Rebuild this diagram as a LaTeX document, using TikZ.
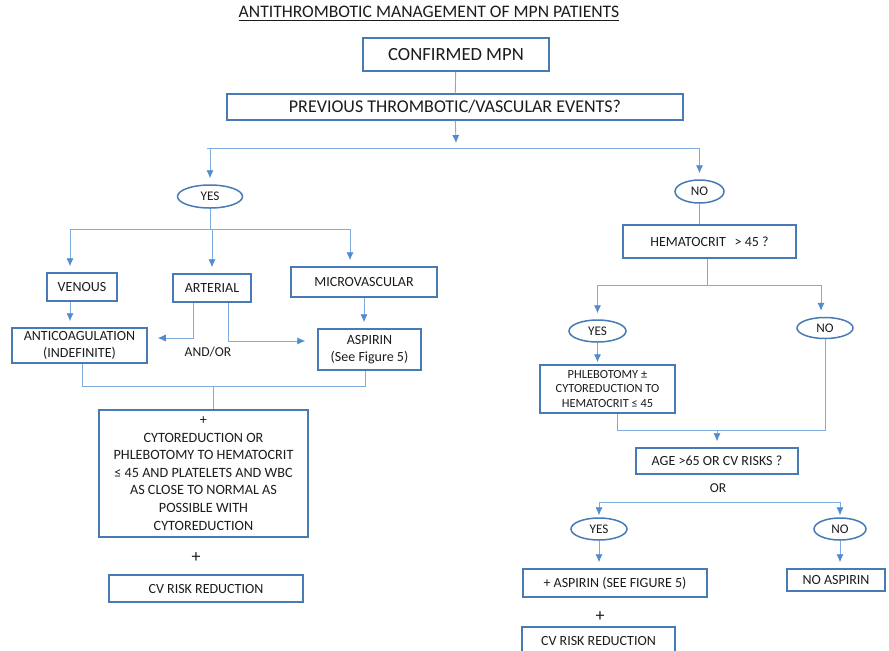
\documentclass[tikz,border=0pt]{standalone}
\usepackage{fontspec}
\setmainfont{Carlito}
\usetikzlibrary{arrows.meta,shapes.geometric}

\definecolor{boxblue}{RGB}{72,122,182}
\definecolor{lineblue}{RGB}{125,172,222}
\definecolor{tipblue}{RGB}{82,140,208}
\definecolor{ink}{RGB}{28,28,28}

\begin{document}
\begin{tikzpicture}[x=0.5pt, y=-0.5pt,
    box/.style={draw=boxblue, line width=0.75pt, rectangle, inner sep=0pt, align=center, text=ink, font=\fontsize{7}{8.6}\selectfont},
    oval/.style={draw=boxblue, line width=0.75pt, ellipse, inner sep=0pt, text=ink, font=\fontsize{6.6}{7}\selectfont},
    flowtext/.style={text=ink, inner sep=0pt, font=\fontsize{6.8}{8}\selectfont},
    link/.style={draw=lineblue, line width=0.45pt},
    arr/.style={link, -{Latex[length=4pt,width=3.6pt,color=tipblue]}, shorten >=3pt},
]
    \path[use as bounding box, fill=white] (0,0) rectangle (889,650);

    \node[flowtext, font=\fontsize{8.8}{10}\selectfont] (title) at (429,14) {\underline{ANTITHROMBOTIC MANAGEMENT OF MPN PATIENTS}};

    \node[box, minimum width=93pt, minimum height=16.5pt, font=\fontsize{9.3}{11}\selectfont] (confirmed) at (456,54.5) {CONFIRMED MPN};
    \node[box, minimum width=228pt, minimum height=13pt, font=\fontsize{9}{10}\selectfont] (previous) at (455,107) {PREVIOUS THROMBOTIC/VASCULAR EVENTS?};
    \coordinate (hub) at (456,143);
    \coordinate (split) at (456,148);

    \draw[link] (confirmed) -- (previous);
    \draw[arr, shorten >=0pt] (previous) -- (hub);
    \draw[link] (split -| 207,0) -- (split -| 700,0);

    % left branch
    \node[oval, minimum width=32.5pt, minimum height=11.5pt] (yesevt) at (210,196.5) {YES};
    \draw[arr] (split -| yesevt) -- (yesevt);

    \node[box, minimum width=35pt, minimum height=14pt] (venous) at (82,287) {VENOUS};
    \node[box, minimum width=39pt, minimum height=14pt] (arterial) at (212,288) {ARTERIAL};
    \node[box, minimum width=73pt, minimum height=15pt] (micro) at (364,282) {MICROVASCULAR};
    \coordinate (kind) at (210,229);

    \draw[link] (yesevt) -- (kind);
    \draw[link] ([xshift=-6pt]venous.north |- kind) -- ([xshift=-7pt]micro.north |- kind);
    \draw[arr] ([xshift=-6pt]venous.north |- kind) -- ([xshift=-6pt]venous.north);
    \draw[arr] (arterial.north |- kind) -- (arterial.north);
    \draw[arr] ([xshift=-7pt]micro.north |- kind) -- ([xshift=-7pt]micro.north);

    \node[box, minimum width=67.5pt, minimum height=17.5pt] (anticoag) at (79.5,345.5) {ANTICOAGULATION\\(INDEFINITE)};
    \node[box, minimum width=51.5pt, minimum height=20.5pt] (aspirin) at (369.5,349.5) {ASPIRIN\\(See Figure 5)};
    \node[flowtext] (andor) at (208,352) {AND/OR};

    \draw[arr] ([xshift=-6pt]venous.south) -- ([xshift=-6pt]venous.south |- anticoag.north);
    \draw[arr, shorten >=5pt] ([xshift=-9.5pt]arterial.south) |- ([yshift=3.75pt]anticoag.east);
    \draw[arr, shorten >=6pt] ([xshift=8pt]arterial.south) |- ([yshift=4.25pt]aspirin.west);
    \draw[arr] (micro.south) -- (micro.south |- aspirin.north);

    \node[box, minimum width=104.5pt, minimum height=63.5pt, font=\fontsize{7.1}{8.8}\selectfont] (cyto) at (203.5,473.5) {+\\CYTOREDUCTION OR\\PHLEBOTOMY TO HEMATOCRIT\\≤ 45 AND PLATELETS AND WBC\\AS CLOSE TO NORMAL AS\\POSSIBLE WITH\\CYTOREDUCTION};
    \coordinate (merge) at (213,386);

    \draw[link] ([xshift=1.25pt]anticoag.south) |- (merge) -| ([xshift=-2.25pt]aspirin.south);
    \draw[link] (merge) -- (merge |- cyto.north);

    \node[flowtext, font=\fontsize{9}{10}\selectfont] (plusleft) at (196,558) {+};
    \node[box, minimum width=97pt, minimum height=13.5pt] (cvleft) at (206,588.5) {CV RISK REDUCTION};

    % right branch
    \node[oval, minimum width=24.5pt, minimum height=11.5pt] (noevt) at (699.5,191.5) {NO};
    \draw[arr] (split -| noevt) -- (noevt);

    \node[box, minimum width=86.5pt, minimum height=16.5pt] (hemat) at (709.5,241.5) {HEMATOCRIT~~\,\textgreater{} 45 ?};
    \draw[link] (noevt) -- (noevt.south |- hemat.north);

    \node[oval, minimum width=28.5pt, minimum height=11pt] (yeshct) at (597.5,331) {YES};
    \node[oval, minimum width=28pt, minimum height=10.5pt] (nohct) at (825,328) {NO};
    \coordinate (hct) at (707,285);

    \draw[link] ([xshift=-1.25pt]hemat.south) -- (hct);
    \draw[link] (hct -| yeshct) -- ([xshift=-2pt]hct -| nohct);
    \draw[arr] (hct -| yeshct) -- (yeshct);
    \draw[arr] ([xshift=-2pt]hct -| nohct) -- ([xshift=-2pt]nohct.north);

    \node[box, minimum width=67.5pt, minimum height=24pt, font=\fontsize{6.2}{7.1}\selectfont] (phleb) at (607.5,389) {PHLEBOTOMY ±\\CYTOREDUCTION TO\\HEMATOCRIT ≤ 45};
    \draw[arr, shorten >=1pt] (yeshct) -- (yeshct.south |- phleb.north);

    \node[box, minimum width=81pt, minimum height=13pt] (age) at (717,461) {AGE \textgreater65 OR CV RISKS ?};
    \node[flowtext] (or) at (718,488) {OR};
    \coordinate (gather) at (717,430);

    \draw[link] ([xshift=4.75pt]phleb.south) |- (gather) -| (nohct);
    \draw[arr] (gather) -- (age);

    \node[oval, minimum width=28pt, minimum height=11pt] (yesage) at (599,529) {YES};
    \node[oval, minimum width=26pt, minimum height=11pt] (noage) at (840,529) {NO};
    \coordinate (risk) at (718,502);

    \draw[link] (risk -| yesage) -- (risk -| noage);
    \draw[arr, shorten >=1pt] (risk -| yesage) -- (yesage);
    \draw[arr, shorten >=1pt] (risk -| noage) -- (noage);

    \node[box, minimum width=92pt, minimum height=14pt] (aspright) at (615,583) {+ ASPIRIN (SEE FIGURE 5)};
    \node[box, minimum width=49pt, minimum height=11pt] (noasp) at (836,580) {NO ASPIRIN};

    \draw[arr] (yesage) -- (yesage.south |- aspright.north);
    \draw[arr] (noage) -- (noage.south |- noasp.north);

    \node[flowtext, font=\fontsize{9}{10}\selectfont] (plusright) at (600,617) {+};
    \node[box, minimum width=76.5pt, minimum height=14pt] (cvright) at (598.5,641) {CV RISK REDUCTION};

\end{tikzpicture}
\end{document}
